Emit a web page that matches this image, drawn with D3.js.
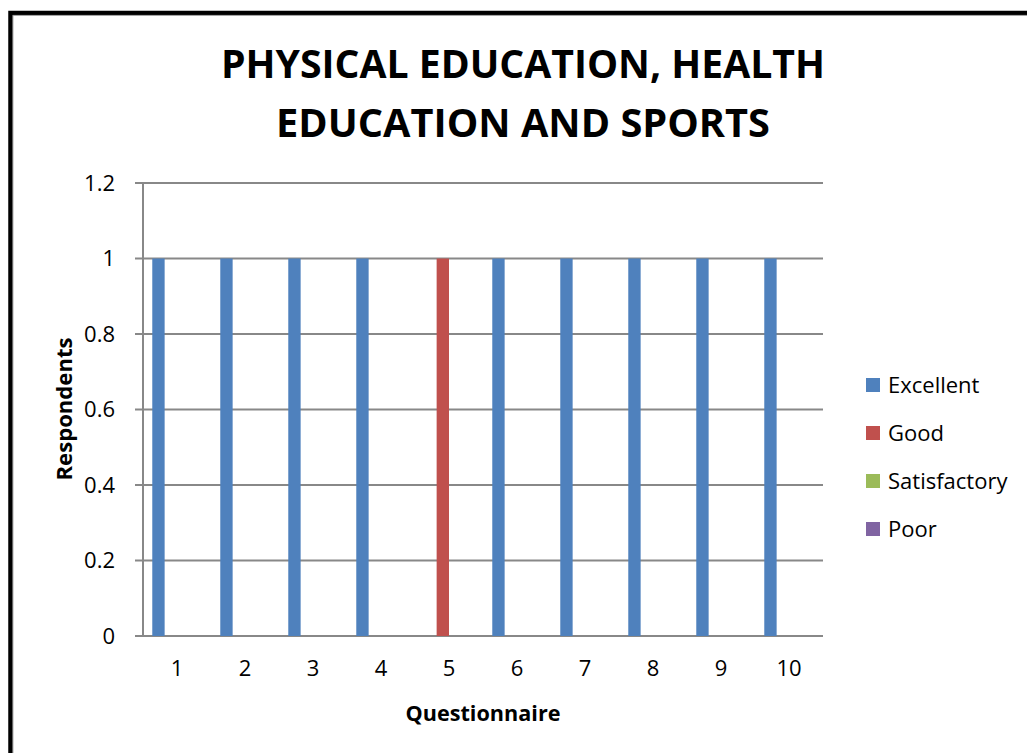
<!DOCTYPE html>
<html>
<head>
<meta charset="utf-8">
<script src="https://cdn.jsdelivr.net/npm/d3@7"></script>
<style>
  html, body { margin: 0; padding: 0; background: #fff; overflow: hidden; }
  svg { display: block; }
</style>
</head>
<body>
<div id="chart"></div>
<script>

// chart values
var categories = ['1', '2', '3', '4', '5', '6', '7', '8', '9', '10'];
var seriesNames = ['Excellent', 'Good', 'Satisfactory', 'Poor'];
var excellent    = [1, 1, 1, 1, 0, 1, 1, 1, 1, 1];
var good         = [0, 0, 0, 0, 1, 0, 0, 0, 0, 0];
var satisfactory = [0, 0, 0, 0, 0, 0, 0, 0, 0, 0];
var poor         = [0, 0, 0, 0, 0, 0, 0, 0, 0, 0];
var yTicks = [0, 0.2, 0.4, 0.6, 0.8, 1, 1.2];
var yTickLabels = ['0', '0.2', '0.4', '0.6', '0.8', '1', '1.2'];
var titleLines = ['PHYSICAL EDUCATION, HEALTH', 'EDUCATION AND SPORTS'];

var colors = ['#4F81BD', '#C0504D', '#9BBB59', '#8064A2'];
var font = "'Open Sans', 'Noto Sans', sans-serif";

var svgWidth = 1027, svgHeight = 753;
var margin = { left: 143, top: 183, right: 1027 - 823, bottom: 753 - 636 };
var plotW = svgWidth - margin.left - margin.right;
var plotH = svgHeight - margin.top - margin.bottom;

var svg = d3.select('#chart').append('svg')
  .attr('width', svgWidth)
  .attr('height', svgHeight);

// outer frame (runs off the right and bottom edge)
svg.append('rect')
  .attr('x', 10.5).attr('y', 13)
  .attr('width', 1100).attr('height', 800)
  .attr('fill', 'none')
  .attr('stroke', '#000')
  .attr('stroke-width', 4.5);
svg.append('rect')
  .attr('x', 13).attr('y', 15.3)
  .attr('width', 1100).attr('height', 800)
  .attr('fill', 'none')
  .attr('stroke', '#999')
  .attr('stroke-width', 0.8);

// title
var titleY = [78, 137];
var titleLen = [604, 494];
svg.selectAll('text.title')
  .data(titleLines)
  .enter()
  .append('text')
  .attr('class', 'title')
  .attr('x', 523)
  .attr('y', function (d, i) { return titleY[i]; })
  .attr('text-anchor', 'middle')
  .attr('textLength', function (d, i) { return titleLen[i]; })
  .attr('lengthAdjust', 'spacingAndGlyphs')
  .style('font-family', font)
  .style('font-weight', 'bold')
  .style('font-size', '40px')
  .text(function (d) { return d; });

var g = svg.append('g')
  .attr('transform', 'translate(' + margin.left + ',' + margin.top + ')');

var x0 = d3.scaleBand()
  .domain(categories)
  .range([0, plotW])
  .padding(0);

// excel style gap width 150% -> outer padding 0.75 of a bar
var x1 = d3.scaleBand()
  .domain(seriesNames)
  .range([0, x0.bandwidth()])
  .paddingInner(0)
  .paddingOuter(0.75);

var y = d3.scaleLinear()
  .domain([0, 1.2])
  .range([plotH, 0]);

// gridlines
g.selectAll('line.grid')
  .data(yTicks)
  .enter()
  .append('line')
  .attr('class', 'grid')
  .attr('x1', -8)
  .attr('x2', plotW)
  .attr('y1', function (d) { return y(d); })
  .attr('y2', function (d) { return y(d); })
  .attr('stroke', '#888')
  .attr('stroke-width', 2);

// y axis (labels only, line drawn separately)
var yAxis = g.append('g')
  .call(d3.axisLeft(y)
    .tickValues(yTicks)
    .tickSize(0)
    .tickPadding(28)
    .tickFormat(function (d, i) { return yTickLabels[i]; }));
yAxis.select('.domain').remove();
yAxis.selectAll('text')
  .style('font-family', font)
  .style('font-size', '22px')
  .attr('fill', '#000');

g.append('line')
  .attr('x1', 0).attr('x2', 0)
  .attr('y1', 0).attr('y2', plotH)
  .attr('stroke', '#888')
  .attr('stroke-width', 2);

// bars
var table = categories.map(function (c, i) {
  return { cat: c, values: [excellent[i], good[i], satisfactory[i], poor[i]] };
});

var groups = g.selectAll('g.cat')
  .data(table)
  .enter()
  .append('g')
  .attr('class', 'cat')
  .attr('transform', function (d) { return 'translate(' + x0(d.cat) + ',0)'; });

groups.selectAll('rect')
  .data(function (d) {
    return d.values.map(function (v, j) { return { name: seriesNames[j], value: v, idx: j }; });
  })
  .enter()
  .append('rect')
  .attr('x', function (d) { return x1(d.name); })
  .attr('width', x1.bandwidth())
  .attr('y', function (d) { return y(d.value); })
  .attr('height', function (d) { return plotH - y(d.value); })
  .attr('fill', function (d) { return colors[d.idx]; });

// x axis
var xAxis = g.append('g')
  .attr('transform', 'translate(0,' + plotH + ')')
  .call(d3.axisBottom(x0).tickSize(0).tickPadding(24));
xAxis.select('.domain').remove();
xAxis.selectAll('text')
  .style('font-family', font)
  .style('font-size', '22px')
  .attr('fill', '#000');

// axis titles
svg.append('text')
  .attr('x', margin.left + plotW / 2)
  .attr('y', 721)
  .attr('text-anchor', 'middle')
  .attr('textLength', 155)
  .attr('lengthAdjust', 'spacingAndGlyphs')
  .style('font-family', font)
  .style('font-weight', 'bold')
  .style('font-size', '21px')
  .text('Questionnaire');

svg.append('text')
  .attr('transform', 'translate(72,409) rotate(-90)')
  .attr('text-anchor', 'middle')
  .attr('textLength', 143)
  .attr('lengthAdjust', 'spacingAndGlyphs')
  .style('font-family', font)
  .style('font-weight', 'bold')
  .style('font-size', '21px')
  .text('Respondents');

// legend
var legend = svg.append('g')
  .attr('transform', 'translate(866,385)');

var items = legend.selectAll('g')
  .data(seriesNames)
  .enter()
  .append('g')
  .attr('transform', function (d, i) { return 'translate(0,' + i * 48 + ')'; });

items.append('rect')
  .attr('x', 0).attr('y', -7)
  .attr('width', 14).attr('height', 14)
  .attr('fill', function (d, i) { return colors[i]; });

items.append('text')
  .attr('x', 22)
  .attr('y', 0)
  .attr('dy', '0.35em')
  .style('font-family', font)
  .style('font-size', '22px')
  .text(function (d) { return d; });

</script>
</body>
</html>
